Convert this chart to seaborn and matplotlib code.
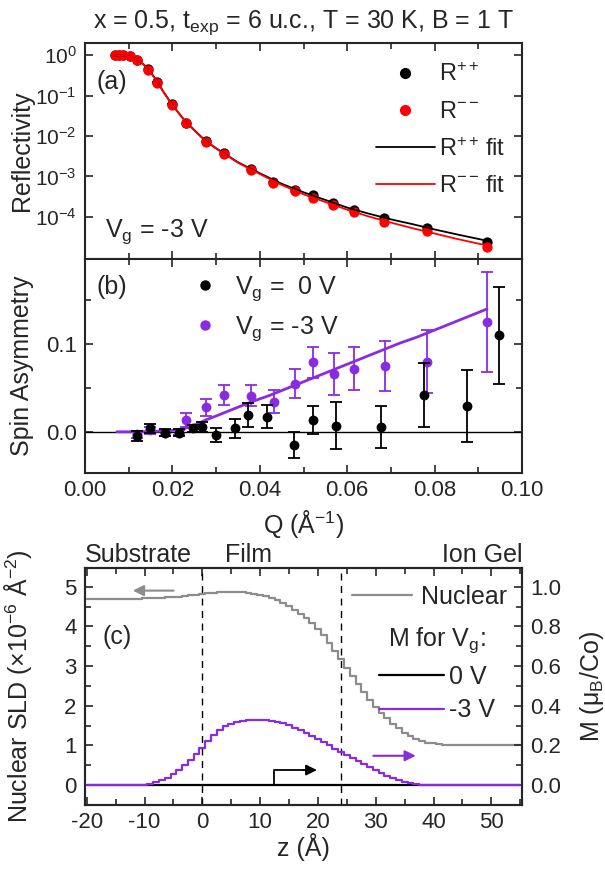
import numpy as np
import pandas as pd
import matplotlib
matplotlib.use("Agg")
import matplotlib.pyplot as plt
import seaborn as sns
from matplotlib.lines import Line2D
from matplotlib.ticker import MultipleLocator, FixedLocator, NullLocator, FormatStrFormatter

# ---------------- data: panel (a) ----------------
q_refl = [0.0069, 0.0078, 0.0088, 0.0103, 0.0120, 0.0145, 0.0165, 0.0198, 0.0231, 0.0277,
          0.0318, 0.0379, 0.0431, 0.0480, 0.0522, 0.0568, 0.0616, 0.0685, 0.0782, 0.0919]
r_pp = [1.0, 1.0, 0.99, 0.95, 0.76, 0.45, 0.215, 0.062, 0.021, 0.0074,
        0.0037, 0.0015, 7.4e-4, 4.7e-4, 3.4e-4, 2.2e-4, 1.48e-4, 9.3e-5, 5.2e-5, 2.45e-5]
r_mm = [1.0, 1.0, 0.99, 0.94, 0.75, 0.44, 0.21, 0.060, 0.0205, 0.0072,
        0.0036, 0.00145, 7.0e-4, 4.4e-4, 3.0e-4, 2.0e-4, 1.36e-4, 7.7e-5, 4.6e-5, 1.85e-5]
r_rel_err = [0.05, 0.05, 0.05, 0.06, 0.08, 0.10, 0.10, 0.10, 0.10, 0.10,
             0.10, 0.10, 0.10, 0.10, 0.10, 0.10, 0.10, 0.12, 0.12, 0.15]
q_res = [0.0008, 0.0008, 0.0008, 0.0009, 0.0010, 0.0011, 0.0011, 0.0011, 0.0010, 0.0009,
         0.0009, 0.0008, 0.0008, 0.0008, 0.0008, 0.0008, 0.0007, 0.0007, 0.0007, 0.0007]

q_fit = [0.0065, 0.008, 0.009, 0.0105, 0.012, 0.0135, 0.015, 0.0165, 0.018, 0.020, 0.0225,
         0.025, 0.0275, 0.030, 0.035, 0.040, 0.045, 0.050, 0.055, 0.060, 0.065, 0.070,
         0.075, 0.080, 0.085, 0.0925]
r_mm_fit = [1.0, 0.989, 0.977, 0.912, 0.759, 0.575, 0.380, 0.219, 0.120, 0.0575, 0.0263,
            0.0138, 0.00759, 0.0049, 0.00219, 0.00115, 6.17e-4, 3.63e-4, 2.34e-4, 1.51e-4,
            1.02e-4, 7.24e-5, 5.25e-5, 3.89e-5, 2.88e-5, 1.91e-5]
r_pp_fit = [1.0, 0.989, 0.977, 0.915, 0.765, 0.58, 0.385, 0.222, 0.122, 0.0585, 0.0268,
            0.0141, 0.00775, 0.0050, 0.00225, 0.00120, 6.61e-4, 4.07e-4, 2.63e-4, 1.70e-4,
            1.20e-4, 8.71e-5, 6.61e-5, 4.90e-5, 3.72e-5, 2.51e-5]
refl_ticks = [1e-4, 1e-3, 1e-2, 1e-1, 1e0]

# ---------------- data: panel (b) ----------------
q_sa0 = [0.0118, 0.0149, 0.0183, 0.0214, 0.0248, 0.0267, 0.0300, 0.0343, 0.0374, 0.0416,
         0.0479, 0.0521, 0.0574, 0.0677, 0.0776, 0.0873, 0.0948]
sa0 = [-0.005, 0.004, -0.001, -0.001, 0.004, 0.005, -0.0034, 0.004, 0.019, 0.017,
       -0.015, 0.013, 0.007, 0.005, 0.042, 0.0295, 0.110]
sa0_err = [0.006, 0.005, 0.004, 0.004, 0.004, 0.0057, 0.008, 0.011, 0.014, 0.013,
           0.015, 0.016, 0.027, 0.024, 0.036, 0.041, 0.055]

q_sa3 = [0.0118, 0.0149, 0.0183, 0.0214, 0.0231, 0.0277, 0.0318, 0.0379, 0.0433, 0.0480,
         0.0522, 0.0570, 0.0616, 0.0687, 0.0782, 0.0921]
sa3 = [-0.003, 0.002, -0.0015, -0.001, 0.0136, 0.028, 0.042, 0.041, 0.0345, 0.055,
       0.079, 0.066, 0.072, 0.075, 0.080, 0.125]
sa3_err = [0.004, 0.004, 0.003, 0.003, 0.0076, 0.0095, 0.011, 0.012, 0.013, 0.017,
           0.018, 0.0235, 0.0245, 0.029, 0.0356, 0.057]

q_sa3_fit = [0.0073, 0.012, 0.016, 0.020, 0.023, 0.025, 0.0277, 0.030, 0.034, 0.038, 0.042,
             0.045, 0.048, 0.052, 0.056, 0.060, 0.064, 0.068, 0.072, 0.076, 0.080, 0.084,
             0.088, 0.092]
sa3_fit = [0.0, 0.0, 0.0005, 0.0015, 0.004, 0.0075, 0.0136, 0.018, 0.026, 0.034, 0.041,
           0.047, 0.053, 0.061, 0.069, 0.077, 0.085, 0.093, 0.101, 0.108, 0.116, 0.124,
           0.132, 0.140]

# ---------------- data: panel (c) ----------------
z_prof = list(range(-20, 56))
nuclear_sld = [4.70, 4.70, 4.70, 4.70, 4.70, 4.70, 4.70, 4.70, 4.70, 4.70,   # -20..-11
               4.71, 4.71, 4.72, 4.72, 4.73, 4.74, 4.75, 4.76, 4.78, 4.79,   # -10..-1
               4.81, 4.83, 4.84, 4.86, 4.87, 4.87, 4.87, 4.86, 4.85, 4.82,   # 0..9
               4.79, 4.76, 4.72, 4.66, 4.59, 4.51, 4.42, 4.32, 4.21, 4.08,   # 10..19
               3.94, 3.77, 3.58, 3.38, 3.17, 2.95, 2.75, 2.54, 2.34, 2.15,   # 20..29
               1.98, 1.82, 1.68, 1.55, 1.43, 1.32, 1.23, 1.16, 1.11, 1.07,   # 30..39
               1.05, 1.03, 1.02, 1.02, 1.02, 1.02, 1.02, 1.02, 1.02, 1.02,   # 40..49
               1.02, 1.02, 1.02, 1.02, 1.02, 1.02]                           # 50..55
m_0V = [0.0] * 76
m_m3V = [0.0, 0.0, 0.0, 0.0, 0.0, 0.0, 0.0, 0.0, 0.0, 0.001,                 # -20..-11
         0.003, 0.007, 0.014, 0.024, 0.037, 0.055, 0.076, 0.100, 0.126, 0.156,  # -10..-1
         0.188, 0.222, 0.252, 0.276, 0.296, 0.310, 0.318, 0.323, 0.326, 0.327,  # 0..9
         0.327, 0.326, 0.324, 0.319, 0.311, 0.301, 0.290, 0.278, 0.264, 0.249,  # 10..19
         0.233, 0.217, 0.200, 0.184, 0.168, 0.152, 0.136, 0.121, 0.106, 0.090,  # 20..29
         0.075, 0.061, 0.048, 0.036, 0.025, 0.016, 0.009, 0.005, 0.002, 0.001,  # 30..39
         0.0, 0.0, 0.0, 0.0, 0.0, 0.0, 0.0, 0.0, 0.0, 0.0,
         0.0, 0.0, 0.0, 0.0, 0.0, 0.0]
film_edges = [0, 24]

# ---------------- style ----------------
RED = "#ff0000"
PURPLE = "#8a2be2"
GRAY = "#8c8c8c"
FS = 18
TFS = 16

sns.set_theme(style="ticks")
plt.rcParams["font.family"] = ["Liberation Sans", "DejaVu Sans"]
plt.rcParams.update({
    "mathtext.fontset": "custom",
    "mathtext.rm": "Liberation Sans",
    "mathtext.it": "Liberation Sans:italic",
    "mathtext.bf": "Liberation Sans:bold",
    "axes.unicode_minus": False,
    "font.size": FS,
    "axes.linewidth": 1.5,
    "xtick.direction": "in",
    "ytick.direction": "in",
    "xtick.major.size": 6, "ytick.major.size": 6,
    "xtick.minor.size": 4, "ytick.minor.size": 4,
    "xtick.major.width": 1.2, "ytick.major.width": 1.2,
    "xtick.minor.width": 1.2, "ytick.minor.width": 1.2,
    "xtick.major.pad": 5, "ytick.major.pad": 6,
    "xtick.labelsize": TFS, "ytick.labelsize": TFS,
    "axes.labelsize": FS,
    "legend.fontsize": FS,
})

fig = plt.figure(figsize=(6.05, 8.69), dpi=100)
W, H = 605.0, 869.0
L, R = 85 / W, 522 / W


def ax_rect(top, bottom):
    return [L, 1 - bottom / H, R - L, (bottom - top) / H]


ax_a = fig.add_axes(ax_rect(43, 259))
ax_b = fig.add_axes(ax_rect(259, 473), sharex=ax_a)
ax_c = fig.add_axes(ax_rect(568, 805))
YLAB_X = -0.117

# ---------------- panel (a) ----------------
df_a = pd.DataFrame({"Q": q_refl, "Rpp": r_pp, "Rmm": r_mm})
df_fit = pd.DataFrame({"Q": q_fit, "Rpp": r_pp_fit, "Rmm": r_mm_fit})
ax_a.set_yscale("log")
ax_a.errorbar(df_a["Q"], df_a["Rpp"], yerr=np.array(r_rel_err) * df_a["Rpp"], xerr=q_res,
              fmt="none", ecolor="black", elinewidth=1.2, capsize=0, zorder=2)
sns.scatterplot(data=df_a, x="Q", y="Rpp", ax=ax_a, color="black", s=55, linewidth=0, zorder=3)
ax_a.errorbar(df_a["Q"], df_a["Rmm"], yerr=np.array(r_rel_err) * df_a["Rmm"], xerr=q_res,
              fmt="none", ecolor=RED, elinewidth=1.2, capsize=0, zorder=4)
sns.scatterplot(data=df_a, x="Q", y="Rmm", ax=ax_a, color=RED, s=55, linewidth=0, zorder=5)
sns.lineplot(data=df_fit, x="Q", y="Rpp", ax=ax_a, color="black", lw=1.3, sort=False,
             estimator=None, zorder=6)
sns.lineplot(data=df_fit, x="Q", y="Rmm", ax=ax_a, color=RED, lw=1.3, sort=False,
             estimator=None, zorder=7)
ax_a.set_ylim(10 ** -5.04, 10 ** 0.3)
ax_a.yaxis.set_major_locator(FixedLocator(refl_ticks))
ax_a.yaxis.set_minor_locator(NullLocator())
ax_a.set_ylabel("Reflectivity")
ax_a.set_xlabel("")
ax_a.yaxis.set_label_coords(YLAB_X, 0.5)
ax_a.tick_params(which="both", top=True, right=True, labelbottom=False)
ax_a.tick_params(axis="y", labelsize=15)
ax_a.text(0.027, 0.82, "(a)", transform=ax_a.transAxes, ha="left", va="center", fontsize=FS)
ax_a.text(0.046, 0.105, "V$_\\mathrm{g}$ = -3 V", transform=ax_a.transAxes, ha="left",
          va="baseline", fontsize=FS)
handles_a = [
    Line2D([], [], ls="none", marker="o", color="black", markersize=7),
    Line2D([], [], ls="none", marker="o", color=RED, markersize=7),
    Line2D([], [], color="black", lw=1.3),
    Line2D([], [], color=RED, lw=1.3),
]
labels_a = ["R$^{++}$", "R$^{--}$", "R$^{++}\\,\\mathrm{fit}$", "R$^{--}\\,\\mathrm{fit}$"]
ax_a.legend(handles_a, labels_a, loc="upper left", bbox_to_anchor=(0.665, 0.905),
            frameon=False, borderpad=0, borderaxespad=0, handlelength=2.5,
            handletextpad=0.2, labelspacing=0.62, fontsize=17)
fig.text((L + R) / 2, 1 - 28 / H, "x = 0.5, t$_\\mathrm{exp}$ = 6 u.c., T = 30 K, B = 1 T",
         ha="center", va="baseline", fontsize=FS)

# ---------------- panel (b) ----------------
df_b0 = pd.DataFrame({"Q": q_sa0, "SA": sa0})
df_b3 = pd.DataFrame({"Q": q_sa3, "SA": sa3})
df_b3f = pd.DataFrame({"Q": q_sa3_fit, "SA": sa3_fit})
ax_b.axhline(0, color="black", lw=1.0, zorder=1)
sns.lineplot(data=df_b3f, x="Q", y="SA", ax=ax_b, color=PURPLE, lw=2.0, sort=False,
             estimator=None, zorder=2)
ax_b.errorbar(df_b3["Q"], df_b3["SA"], yerr=sa3_err, fmt="none", ecolor=PURPLE,
              elinewidth=1.3, capsize=4, capthick=1.3, zorder=3)
sns.scatterplot(data=df_b3, x="Q", y="SA", ax=ax_b, color=PURPLE, s=50, linewidth=0, zorder=4)
ax_b.errorbar(df_b0["Q"], df_b0["SA"], yerr=sa0_err, fmt="none", ecolor="black",
              elinewidth=1.3, capsize=4, capthick=1.3, zorder=5)
sns.scatterplot(data=df_b0, x="Q", y="SA", ax=ax_b, color="black", s=50, linewidth=0, zorder=6)
ax_b.set_xlim(0.0, 0.10)
ax_b.set_ylim(-0.047, 0.197)
ax_b.xaxis.set_major_locator(MultipleLocator(0.02))
ax_b.xaxis.set_minor_locator(MultipleLocator(0.01))
ax_b.xaxis.set_major_formatter(FormatStrFormatter("%.2f"))
ax_b.yaxis.set_major_locator(MultipleLocator(0.1))
ax_b.yaxis.set_minor_locator(MultipleLocator(0.05))
ax_b.yaxis.set_major_formatter(FormatStrFormatter("%.1f"))
ax_b.tick_params(which="both", top=True, right=True)
ax_b.set_xlabel("Q (Å$^{-1}$)", labelpad=5)
ax_b.set_ylabel("Spin Asymmetry")
ax_b.yaxis.set_label_coords(YLAB_X, 0.5)
ax_b.text(0.027, 0.869, "(b)", transform=ax_b.transAxes, ha="left", va="center", fontsize=FS)
handles_b = [
    Line2D([], [], ls="none", marker="o", color="black", markersize=6.5),
    Line2D([], [], ls="none", marker="o", color=PURPLE, markersize=6.5),
]
labels_b = ["V$_\\mathrm{g}$ =  0 V", "V$_\\mathrm{g}$ = -3 V"]
ax_b.legend(handles_b, labels_b, loc="upper left", bbox_to_anchor=(0.246, 0.93),
            frameon=False, borderpad=0, borderaxespad=0, handlelength=1.0,
            handletextpad=0.7, labelspacing=0.45)

# ---------------- panel (c) ----------------
df_c = pd.DataFrame({"z": z_prof, "nuc": nuclear_sld, "m0": m_0V, "m3": m_m3V})
ax_m = ax_c.twinx()
sns.lineplot(data=df_c, x="z", y="nuc", ax=ax_c, color=GRAY, lw=1.6, drawstyle="steps-mid",
             estimator=None, zorder=3)
for zz in film_edges:
    ax_c.axvline(zz, color="black", lw=1.0, ls=(0, (5, 4)), zorder=1)
sns.lineplot(data=df_c, x="z", y="m0", ax=ax_m, color="black", lw=1.6, drawstyle="steps-mid",
             estimator=None, zorder=3)
sns.lineplot(data=df_c, x="z", y="m3", ax=ax_m, color=PURPLE, lw=1.6, drawstyle="steps-mid",
             estimator=None, zorder=4)
ax_c.set_xlim(-20.3, 55.3)
ax_c.set_ylim(-0.5, 5.47)
ax_m.set_ylim(-0.1, 1.094)
ax_c.xaxis.set_major_locator(MultipleLocator(10))
ax_c.xaxis.set_minor_locator(MultipleLocator(5))
ax_c.yaxis.set_major_locator(MultipleLocator(1))
ax_c.yaxis.set_minor_locator(MultipleLocator(0.5))
ax_m.yaxis.set_major_locator(MultipleLocator(0.2))
ax_m.yaxis.set_minor_locator(MultipleLocator(0.1))
ax_m.yaxis.set_major_formatter(FormatStrFormatter("%.1f"))
ax_c.tick_params(which="both", top=True, right=False)
ax_m.tick_params(which="both", right=True, direction="in")
ax_c.set_xlabel("z (Å)", labelpad=0)
ax_c.set_ylabel("Nuclear SLD (×10$^{-6}$ Å$^{-2}$)")
ax_c.yaxis.set_label_coords(YLAB_X, 0.5)
ax_m.set_ylabel("M (μ$_\\mathrm{B}$/Co)")
ax_m.yaxis.set_label_coords(1.128, 0.5)
for sp in ax_m.spines.values():
    sp.set_linewidth(1.5)

# arrows
ax_c.annotate("", xy=(-12.5, 4.9), xytext=(-4.5, 4.9),
              arrowprops=dict(arrowstyle="-|>", color=GRAY, lw=1.5, mutation_scale=16))
ax_c.plot([12.4, 12.4, 17.5], [0.0, 0.38, 0.38], color="black", lw=1.3, zorder=5)
ax_c.annotate("", xy=(20.3, 0.38), xytext=(17.0, 0.38),
              arrowprops=dict(arrowstyle="-|>", color="black", lw=1.3, mutation_scale=16))
ax_c.annotate("", xy=(37.4, 0.74), xytext=(29.1, 0.74),
              arrowprops=dict(arrowstyle="-|>", color=PURPLE, lw=1.5, mutation_scale=16))

ax_c.text(0.039, 0.709, "(c)", transform=ax_c.transAxes, ha="left", va="center", fontsize=FS)
ax_c.text(0.0, 1.025, "Substrate", transform=ax_c.transAxes, ha="left", va="baseline",
          fontsize=FS)
ax_c.text(0.375, 1.025, "Film", transform=ax_c.transAxes, ha="center", va="baseline",
          fontsize=FS)
ax_c.text(1.0, 1.025, "Ion Gel", transform=ax_c.transAxes, ha="right", va="baseline",
          fontsize=FS)

leg1 = ax_m.legend([Line2D([], [], color=GRAY, lw=1.6)], ["Nuclear"], loc="upper right",
                   bbox_to_anchor=(0.966, 0.928), frameon=False, borderpad=0,
                   borderaxespad=0, handlelength=2.4, handletextpad=0.36)
ax_m.add_artist(leg1)
leg2 = ax_m.legend([Line2D([], [], color="black", lw=1.6), Line2D([], [], color=PURPLE, lw=1.6)],
                   ["0 V", "-3 V"], title="M for V$_\\mathrm{g}$:", loc="upper right",
                   bbox_to_anchor=(0.938, 0.757), frameon=False, borderpad=0,
                   borderaxespad=0, handlelength=2.6, handletextpad=0.2, labelspacing=0.38,
                   title_fontsize=FS)

fig.savefig("out.png", dpi=100)
